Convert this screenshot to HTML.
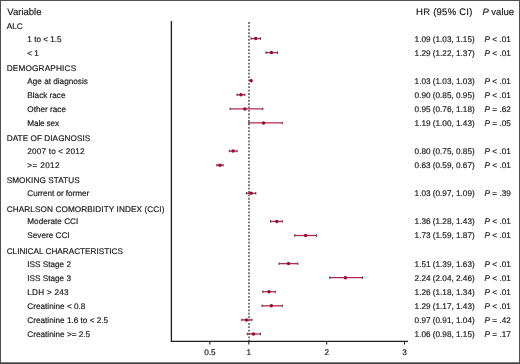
<!DOCTYPE html><html><head><meta charset="utf-8"><style>html,body{margin:0;padding:0;background:#fff}svg{display:block;will-change:transform}text{font-family:"Liberation Sans",sans-serif;fill:#1c1c1c;text-rendering:geometricPrecision;stroke:#1c1c1c;stroke-width:0.18px}</style></head><body>
<svg width="520" height="364" viewBox="0 0 520 364">
<rect x="0" y="0" width="520" height="364" fill="#fff"/>
<text x="7.3" y="15.3" font-size="9.5">Variable</text>
<text x="416.1" y="15.3" font-size="9.5" textLength="56.24" lengthAdjust="spacing">HR (95% CI)</text>
<text x="482.4" y="15.3" font-size="9.5"><tspan font-style="italic">P</tspan> value</text>
<line x1="171.4" y1="21" x2="171.4" y2="341.5" stroke="#1e1e1e" stroke-width="1.3"/>
<line x1="170.8" y1="341.4" x2="408" y2="341.4" stroke="#1e1e1e" stroke-width="1.4"/>
<line x1="249" y1="22.1" x2="249" y2="341" stroke="#333" stroke-width="1.3" stroke-dasharray="1.8 1.58"/>
<line x1="209.84" y1="341.5" x2="209.84" y2="344.5" stroke="#1e1e1e" stroke-width="1.1"/>
<text x="209.84" y="355.4" font-size="8.2" text-anchor="middle">0.5</text>
<line x1="248.78" y1="341.5" x2="248.78" y2="344.5" stroke="#1e1e1e" stroke-width="1.1"/>
<text x="248.78" y="355.4" font-size="8.2" text-anchor="middle">1</text>
<line x1="326.66" y1="341.5" x2="326.66" y2="344.5" stroke="#1e1e1e" stroke-width="1.1"/>
<text x="326.66" y="355.4" font-size="8.2" text-anchor="middle">2</text>
<line x1="404.54" y1="341.5" x2="404.54" y2="344.5" stroke="#1e1e1e" stroke-width="1.1"/>
<text x="404.54" y="355.4" font-size="8.2" text-anchor="middle">3</text>
<text x="6.7" y="28.68" font-size="8.2">ALC</text>
<text x="27.3" y="41.50" font-size="8.2">1 to &lt; 1.5</text>
<text x="414.6" y="41.50" font-size="8.2">1.09 (1.03, 1.15)</text>
<text x="484.6" y="41.50" font-size="8.2"><tspan font-style="italic">P</tspan> &lt; .01</text>
<line x1="251.12" y1="38.55" x2="260.46" y2="38.55" stroke="#ab2c4b" stroke-width="1.3"/>
<line x1="251.12" y1="37.25" x2="251.12" y2="39.85" stroke="#6a2a3c" stroke-width="1"/>
<line x1="260.46" y1="37.25" x2="260.46" y2="39.85" stroke="#6a2a3c" stroke-width="1"/>
<circle cx="255.79" cy="38.55" r="1.75" fill="#a00832"/>
<text x="27.3" y="55.57" font-size="8.2">&lt; 1</text>
<text x="414.6" y="55.57" font-size="8.2">1.29 (1.22, 1.37)</text>
<text x="484.6" y="55.57" font-size="8.2"><tspan font-style="italic">P</tspan> &lt; .01</text>
<line x1="265.91" y1="52.62" x2="277.60" y2="52.62" stroke="#ab2c4b" stroke-width="1.3"/>
<line x1="265.91" y1="51.32" x2="265.91" y2="53.92" stroke="#6a2a3c" stroke-width="1"/>
<line x1="277.60" y1="51.32" x2="277.60" y2="53.92" stroke="#6a2a3c" stroke-width="1"/>
<circle cx="271.37" cy="52.62" r="1.75" fill="#a00832"/>
<text x="6.7" y="70.88" font-size="8.2" textLength="69.43" lengthAdjust="spacing">DEMOGRAPHICS</text>
<text x="27.3" y="83.70" font-size="8.2">Age at diagnosis</text>
<text x="414.6" y="83.70" font-size="8.2">1.03 (1.03, 1.03)</text>
<text x="484.6" y="83.70" font-size="8.2"><tspan font-style="italic">P</tspan> &lt; .01</text>
<line x1="251.12" y1="80.75" x2="251.12" y2="80.75" stroke="#ab2c4b" stroke-width="1.3"/>
<line x1="251.12" y1="79.45" x2="251.12" y2="82.05" stroke="#6a2a3c" stroke-width="1"/>
<line x1="251.12" y1="79.45" x2="251.12" y2="82.05" stroke="#6a2a3c" stroke-width="1"/>
<circle cx="251.12" cy="80.75" r="1.75" fill="#a00832"/>
<text x="27.3" y="97.77" font-size="8.2">Black race</text>
<text x="414.6" y="97.77" font-size="8.2">0.90 (0.85, 0.95)</text>
<text x="484.6" y="97.77" font-size="8.2"><tspan font-style="italic">P</tspan> &lt; .01</text>
<line x1="237.10" y1="94.82" x2="244.89" y2="94.82" stroke="#ab2c4b" stroke-width="1.3"/>
<line x1="237.10" y1="93.52" x2="237.10" y2="96.12" stroke="#6a2a3c" stroke-width="1"/>
<line x1="244.89" y1="93.52" x2="244.89" y2="96.12" stroke="#6a2a3c" stroke-width="1"/>
<circle cx="240.99" cy="94.82" r="1.75" fill="#a00832"/>
<text x="27.3" y="111.84" font-size="8.2">Other race</text>
<text x="414.6" y="111.84" font-size="8.2">0.95 (0.76, 1.18)</text>
<text x="484.6" y="111.84" font-size="8.2"><tspan font-style="italic">P</tspan> = .62</text>
<line x1="230.09" y1="108.89" x2="262.80" y2="108.89" stroke="#ab2c4b" stroke-width="1.3"/>
<line x1="230.09" y1="107.59" x2="230.09" y2="110.19" stroke="#6a2a3c" stroke-width="1"/>
<line x1="262.80" y1="107.59" x2="262.80" y2="110.19" stroke="#6a2a3c" stroke-width="1"/>
<circle cx="244.89" cy="108.89" r="1.75" fill="#a00832"/>
<text x="27.3" y="125.90" font-size="8.2" textLength="31.71" lengthAdjust="spacing">Male sex</text>
<text x="414.6" y="125.90" font-size="8.2">1.19 (1.00, 1.43)</text>
<text x="484.6" y="125.90" font-size="8.2"><tspan font-style="italic">P</tspan> = .05</text>
<line x1="248.78" y1="122.95" x2="282.27" y2="122.95" stroke="#ab2c4b" stroke-width="1.3"/>
<line x1="248.78" y1="121.65" x2="248.78" y2="124.25" stroke="#6a2a3c" stroke-width="1"/>
<line x1="282.27" y1="121.65" x2="282.27" y2="124.25" stroke="#6a2a3c" stroke-width="1"/>
<circle cx="263.58" cy="122.95" r="1.75" fill="#a00832"/>
<text x="6.7" y="141.22" font-size="8.2" textLength="83.57" lengthAdjust="spacing">DATE OF DIAGNOSIS</text>
<text x="27.3" y="154.04" font-size="8.2" textLength="57.25" lengthAdjust="spacing">2007 to &lt; 2012</text>
<text x="414.6" y="154.04" font-size="8.2">0.80 (0.75, 0.85)</text>
<text x="484.6" y="154.04" font-size="8.2"><tspan font-style="italic">P</tspan> &lt; .01</text>
<line x1="229.31" y1="151.09" x2="237.10" y2="151.09" stroke="#ab2c4b" stroke-width="1.3"/>
<line x1="229.31" y1="149.79" x2="229.31" y2="152.39" stroke="#6a2a3c" stroke-width="1"/>
<line x1="237.10" y1="149.79" x2="237.10" y2="152.39" stroke="#6a2a3c" stroke-width="1"/>
<circle cx="233.20" cy="151.09" r="1.75" fill="#a00832"/>
<text x="27.3" y="168.10" font-size="8.2" textLength="32.30" lengthAdjust="spacing">&gt;= 2012</text>
<text x="414.6" y="168.10" font-size="8.2">0.63 (0.59, 0.67)</text>
<text x="484.6" y="168.10" font-size="8.2"><tspan font-style="italic">P</tspan> &lt; .01</text>
<line x1="216.85" y1="165.15" x2="223.08" y2="165.15" stroke="#ab2c4b" stroke-width="1.3"/>
<line x1="216.85" y1="163.85" x2="216.85" y2="166.45" stroke="#6a2a3c" stroke-width="1"/>
<line x1="223.08" y1="163.85" x2="223.08" y2="166.45" stroke="#6a2a3c" stroke-width="1"/>
<circle cx="219.96" cy="165.15" r="1.75" fill="#a00832"/>
<text x="6.7" y="183.42" font-size="8.2" textLength="72.94" lengthAdjust="spacing">SMOKING STATUS</text>
<text x="27.3" y="196.24" font-size="8.2" textLength="61.88" lengthAdjust="spacing">Current or former</text>
<text x="414.6" y="196.24" font-size="8.2">1.03 (0.97, 1.09)</text>
<text x="484.6" y="196.24" font-size="8.2"><tspan font-style="italic">P</tspan> = .39</text>
<line x1="246.44" y1="193.29" x2="255.79" y2="193.29" stroke="#ab2c4b" stroke-width="1.3"/>
<line x1="246.44" y1="191.99" x2="246.44" y2="194.59" stroke="#6a2a3c" stroke-width="1"/>
<line x1="255.79" y1="191.99" x2="255.79" y2="194.59" stroke="#6a2a3c" stroke-width="1"/>
<circle cx="251.12" cy="193.29" r="1.75" fill="#a00832"/>
<text x="6.7" y="211.55" font-size="8.2" textLength="157.75" lengthAdjust="spacing">CHARLSON COMORBIDITY INDEX (CCI)</text>
<text x="27.3" y="224.37" font-size="8.2">Moderate CCI</text>
<text x="414.6" y="224.37" font-size="8.2">1.36 (1.28, 1.43)</text>
<text x="484.6" y="224.37" font-size="8.2"><tspan font-style="italic">P</tspan> &lt; .01</text>
<line x1="270.59" y1="221.42" x2="282.27" y2="221.42" stroke="#ab2c4b" stroke-width="1.3"/>
<line x1="270.59" y1="220.12" x2="270.59" y2="222.72" stroke="#6a2a3c" stroke-width="1"/>
<line x1="282.27" y1="220.12" x2="282.27" y2="222.72" stroke="#6a2a3c" stroke-width="1"/>
<circle cx="276.82" cy="221.42" r="1.75" fill="#a00832"/>
<text x="27.3" y="238.44" font-size="8.2">Severe CCI</text>
<text x="414.6" y="238.44" font-size="8.2">1.73 (1.59, 1.87)</text>
<text x="484.6" y="238.44" font-size="8.2"><tspan font-style="italic">P</tspan> &lt; .01</text>
<line x1="294.73" y1="235.49" x2="316.54" y2="235.49" stroke="#ab2c4b" stroke-width="1.3"/>
<line x1="294.73" y1="234.19" x2="294.73" y2="236.79" stroke="#6a2a3c" stroke-width="1"/>
<line x1="316.54" y1="234.19" x2="316.54" y2="236.79" stroke="#6a2a3c" stroke-width="1"/>
<circle cx="305.63" cy="235.49" r="1.75" fill="#a00832"/>
<text x="6.7" y="253.75" font-size="8.2">CLINICAL CHARACTERISTICS</text>
<text x="27.3" y="266.57" font-size="8.2">ISS Stage 2</text>
<text x="414.6" y="266.57" font-size="8.2">1.51 (1.39, 1.63)</text>
<text x="484.6" y="266.57" font-size="8.2"><tspan font-style="italic">P</tspan> &lt; .01</text>
<line x1="279.15" y1="263.62" x2="297.84" y2="263.62" stroke="#ab2c4b" stroke-width="1.3"/>
<line x1="279.15" y1="262.32" x2="279.15" y2="264.92" stroke="#6a2a3c" stroke-width="1"/>
<line x1="297.84" y1="262.32" x2="297.84" y2="264.92" stroke="#6a2a3c" stroke-width="1"/>
<circle cx="288.50" cy="263.62" r="1.75" fill="#a00832"/>
<text x="27.3" y="280.64" font-size="8.2">ISS Stage 3</text>
<text x="414.6" y="280.64" font-size="8.2">2.24 (2.04, 2.46)</text>
<text x="484.6" y="280.64" font-size="8.2"><tspan font-style="italic">P</tspan> &lt; .01</text>
<line x1="329.78" y1="277.69" x2="362.48" y2="277.69" stroke="#ab2c4b" stroke-width="1.3"/>
<line x1="329.78" y1="276.39" x2="329.78" y2="278.99" stroke="#6a2a3c" stroke-width="1"/>
<line x1="362.48" y1="276.39" x2="362.48" y2="278.99" stroke="#6a2a3c" stroke-width="1"/>
<circle cx="345.35" cy="277.69" r="1.75" fill="#a00832"/>
<text x="27.3" y="294.71" font-size="8.2" textLength="41.23" lengthAdjust="spacing">LDH &gt; 243</text>
<text x="414.6" y="294.71" font-size="8.2">1.26 (1.18, 1.34)</text>
<text x="484.6" y="294.71" font-size="8.2"><tspan font-style="italic">P</tspan> &lt; .01</text>
<line x1="262.80" y1="291.76" x2="275.26" y2="291.76" stroke="#ab2c4b" stroke-width="1.3"/>
<line x1="262.80" y1="290.46" x2="262.80" y2="293.06" stroke="#6a2a3c" stroke-width="1"/>
<line x1="275.26" y1="290.46" x2="275.26" y2="293.06" stroke="#6a2a3c" stroke-width="1"/>
<circle cx="269.03" cy="291.76" r="1.75" fill="#a00832"/>
<text x="27.3" y="308.77" font-size="8.2">Creatinine &lt; 0.8</text>
<text x="414.6" y="308.77" font-size="8.2">1.29 (1.17, 1.43)</text>
<text x="484.6" y="308.77" font-size="8.2"><tspan font-style="italic">P</tspan> &lt; .01</text>
<line x1="262.02" y1="305.82" x2="282.27" y2="305.82" stroke="#ab2c4b" stroke-width="1.3"/>
<line x1="262.02" y1="304.52" x2="262.02" y2="307.12" stroke="#6a2a3c" stroke-width="1"/>
<line x1="282.27" y1="304.52" x2="282.27" y2="307.12" stroke="#6a2a3c" stroke-width="1"/>
<circle cx="271.37" cy="305.82" r="1.75" fill="#a00832"/>
<text x="27.3" y="322.84" font-size="8.2">Creatinine 1.6 to &lt; 2.5</text>
<text x="414.6" y="322.84" font-size="8.2">0.97 (0.91, 1.04)</text>
<text x="484.6" y="322.84" font-size="8.2"><tspan font-style="italic">P</tspan> = .42</text>
<line x1="241.77" y1="319.89" x2="251.90" y2="319.89" stroke="#ab2c4b" stroke-width="1.3"/>
<line x1="241.77" y1="318.59" x2="241.77" y2="321.19" stroke="#6a2a3c" stroke-width="1"/>
<line x1="251.90" y1="318.59" x2="251.90" y2="321.19" stroke="#6a2a3c" stroke-width="1"/>
<circle cx="246.44" cy="319.89" r="1.75" fill="#a00832"/>
<text x="27.3" y="336.91" font-size="8.2">Creatinine &gt;= 2.5</text>
<text x="414.6" y="336.91" font-size="8.2">1.06 (0.98, 1.15)</text>
<text x="484.6" y="336.91" font-size="8.2"><tspan font-style="italic">P</tspan> = .17</text>
<line x1="247.22" y1="333.96" x2="260.46" y2="333.96" stroke="#ab2c4b" stroke-width="1.3"/>
<line x1="247.22" y1="332.66" x2="247.22" y2="335.26" stroke="#6a2a3c" stroke-width="1"/>
<line x1="260.46" y1="332.66" x2="260.46" y2="335.26" stroke="#6a2a3c" stroke-width="1"/>
<circle cx="253.45" cy="333.96" r="1.75" fill="#a00832"/>
<rect x="0.5" y="0.5" width="519" height="362.6" fill="none" stroke="#505050" stroke-width="1"/>
<line x1="0" y1="363.3" x2="520" y2="363.3" stroke="#444" stroke-width="1.4"/>
</svg></body></html>
